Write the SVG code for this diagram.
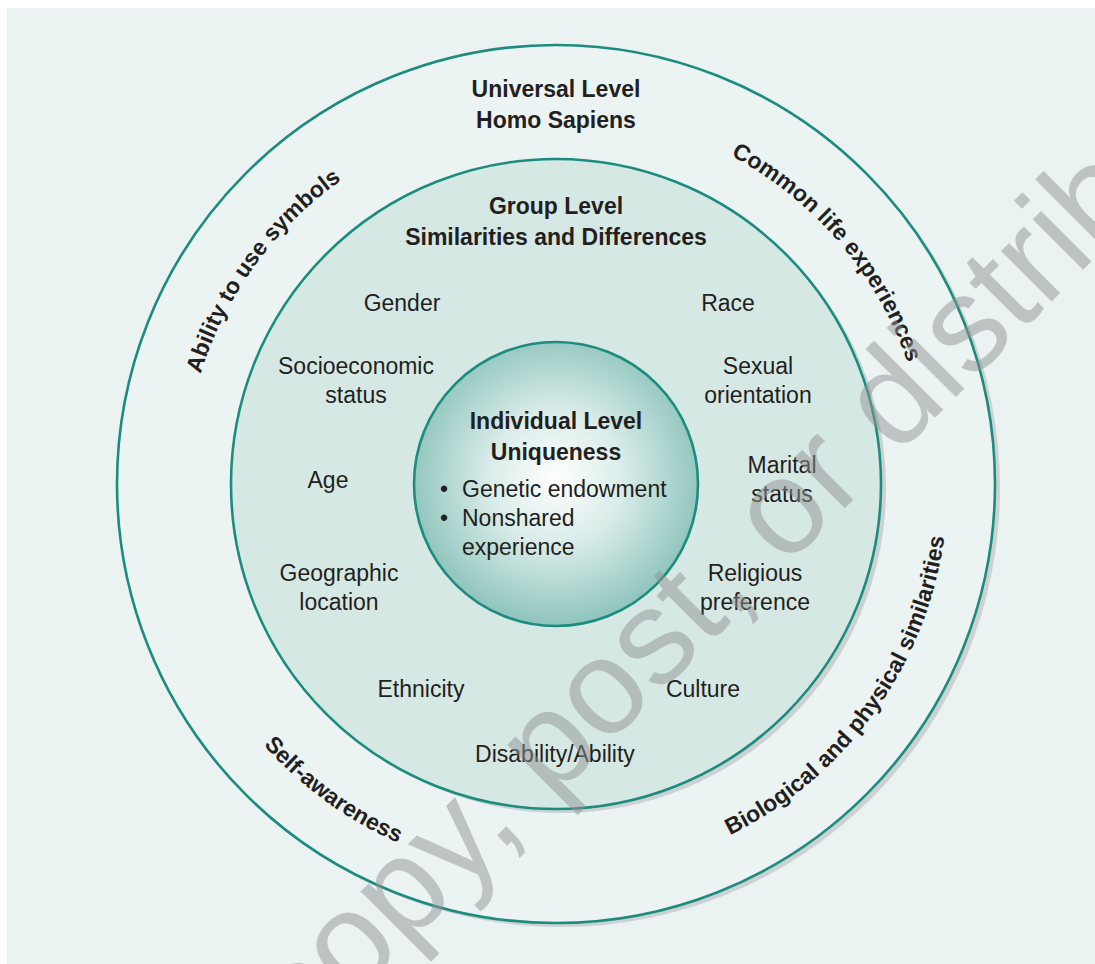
<svg xmlns="http://www.w3.org/2000/svg" width="1095" height="964" viewBox="0 0 1095 964">
<style>
.ring{stroke:#1b8c7d;stroke-width:2.6}
.shadow{fill:#cdd1d3}
.b{font-family:"Liberation Sans",Arial,sans-serif;font-weight:bold;font-size:23px;fill:#231f20}
.r{font-family:"Liberation Sans",Arial,sans-serif;font-size:23px;fill:#231f20}
.wm{font-family:"Liberation Sans",Arial,sans-serif;font-size:135px;fill:#8f9494;fill-opacity:0.5}
</style>
<defs>
<radialGradient id="innerGrad" cx="556" cy="478" r="150" gradientUnits="userSpaceOnUse">
<stop offset="0" stop-color="#ffffff"/>
<stop offset="0.45" stop-color="#d9ece9"/>
<stop offset="1" stop-color="#8cc3bb"/>
</radialGradient>
<path id="pAbility" d="M216.2,635.3 A372,372 0 0 1 594.9,114.0"/>
<path id="pCommon" d="M488.2,118.2 A372,372 0 0 1 906.6,608.2"/>
<path id="pBio" d="M449.9,861.4 A392,392 0 0 0 879.8,263.1"/>
<path id="pSelf" d="M164.9,511.3 A392,392 0 0 0 650.8,864.4"/>
</defs>
<rect x="7" y="8" width="1088" height="956" fill="#ebf2f2"/>
<g id="universal">
<circle class="shadow" cx="561" cy="488" r="439"/>
<circle class="ring" cx="556" cy="484" r="439" fill="#ecf3f3"/>
<text class="b" x="556" y="97" text-anchor="middle">Universal Level</text>
<text class="b" x="556" y="128" text-anchor="middle">Homo Sapiens</text>
<text class="b"><textPath href="#pAbility" startOffset="50%" text-anchor="middle">Ability to use symbols</textPath></text>
<text class="b"><textPath href="#pCommon" startOffset="50%" text-anchor="middle">Common life experiences</textPath></text>
<text class="b"><textPath href="#pBio" startOffset="50%" text-anchor="middle">Biological and physical similarities</textPath></text>
<text class="b"><textPath href="#pSelf" startOffset="50%" text-anchor="middle">Self-awareness</textPath></text>
</g>
<g id="group">
<circle class="shadow" cx="561" cy="488" r="325"/>
<circle class="ring" cx="556" cy="484" r="325" fill="#d6e8e4"/>
<text class="b" x="556" y="214" text-anchor="middle">Group Level</text>
<text class="b" x="556" y="245" text-anchor="middle">Similarities and Differences</text>
<g text-anchor="middle" class="r">
<text x="402" y="311">Gender</text>
<text x="728" y="311">Race</text>
<text x="356" y="374">Socioeconomic</text>
<text x="356" y="403">status</text>
<text x="758" y="374">Sexual</text>
<text x="758" y="403">orientation</text>
<text x="328" y="488">Age</text>
<text x="782" y="473">Marital</text>
<text x="782" y="502">status</text>
<text x="339" y="581">Geographic</text>
<text x="339" y="610">location</text>
<text x="755" y="581">Religious</text>
<text x="755" y="610">preference</text>
<text x="421" y="697">Ethnicity</text>
<text x="703" y="697">Culture</text>
<text x="555" y="762">Disability/Ability</text>
</g>
</g>
<g id="individual">
<circle class="ring" cx="556" cy="484" r="142" fill="url(#innerGrad)"/>
<text class="b" x="556" y="429" text-anchor="middle">Individual Level</text>
<text class="b" x="556" y="460" text-anchor="middle">Uniqueness</text>
<text class="r" x="440" y="497">•</text>
<text class="r" x="462" y="497">Genetic endowment</text>
<text class="r" x="440" y="526">•</text>
<text class="r" x="462" y="526">Nonshared</text>
<text class="r" x="462" y="555">experience</text>
</g>
<g id="connectors"/>
<text class="wm" transform="translate(304,1049) rotate(-45)">copy, post, or distribute</text>
</svg>
